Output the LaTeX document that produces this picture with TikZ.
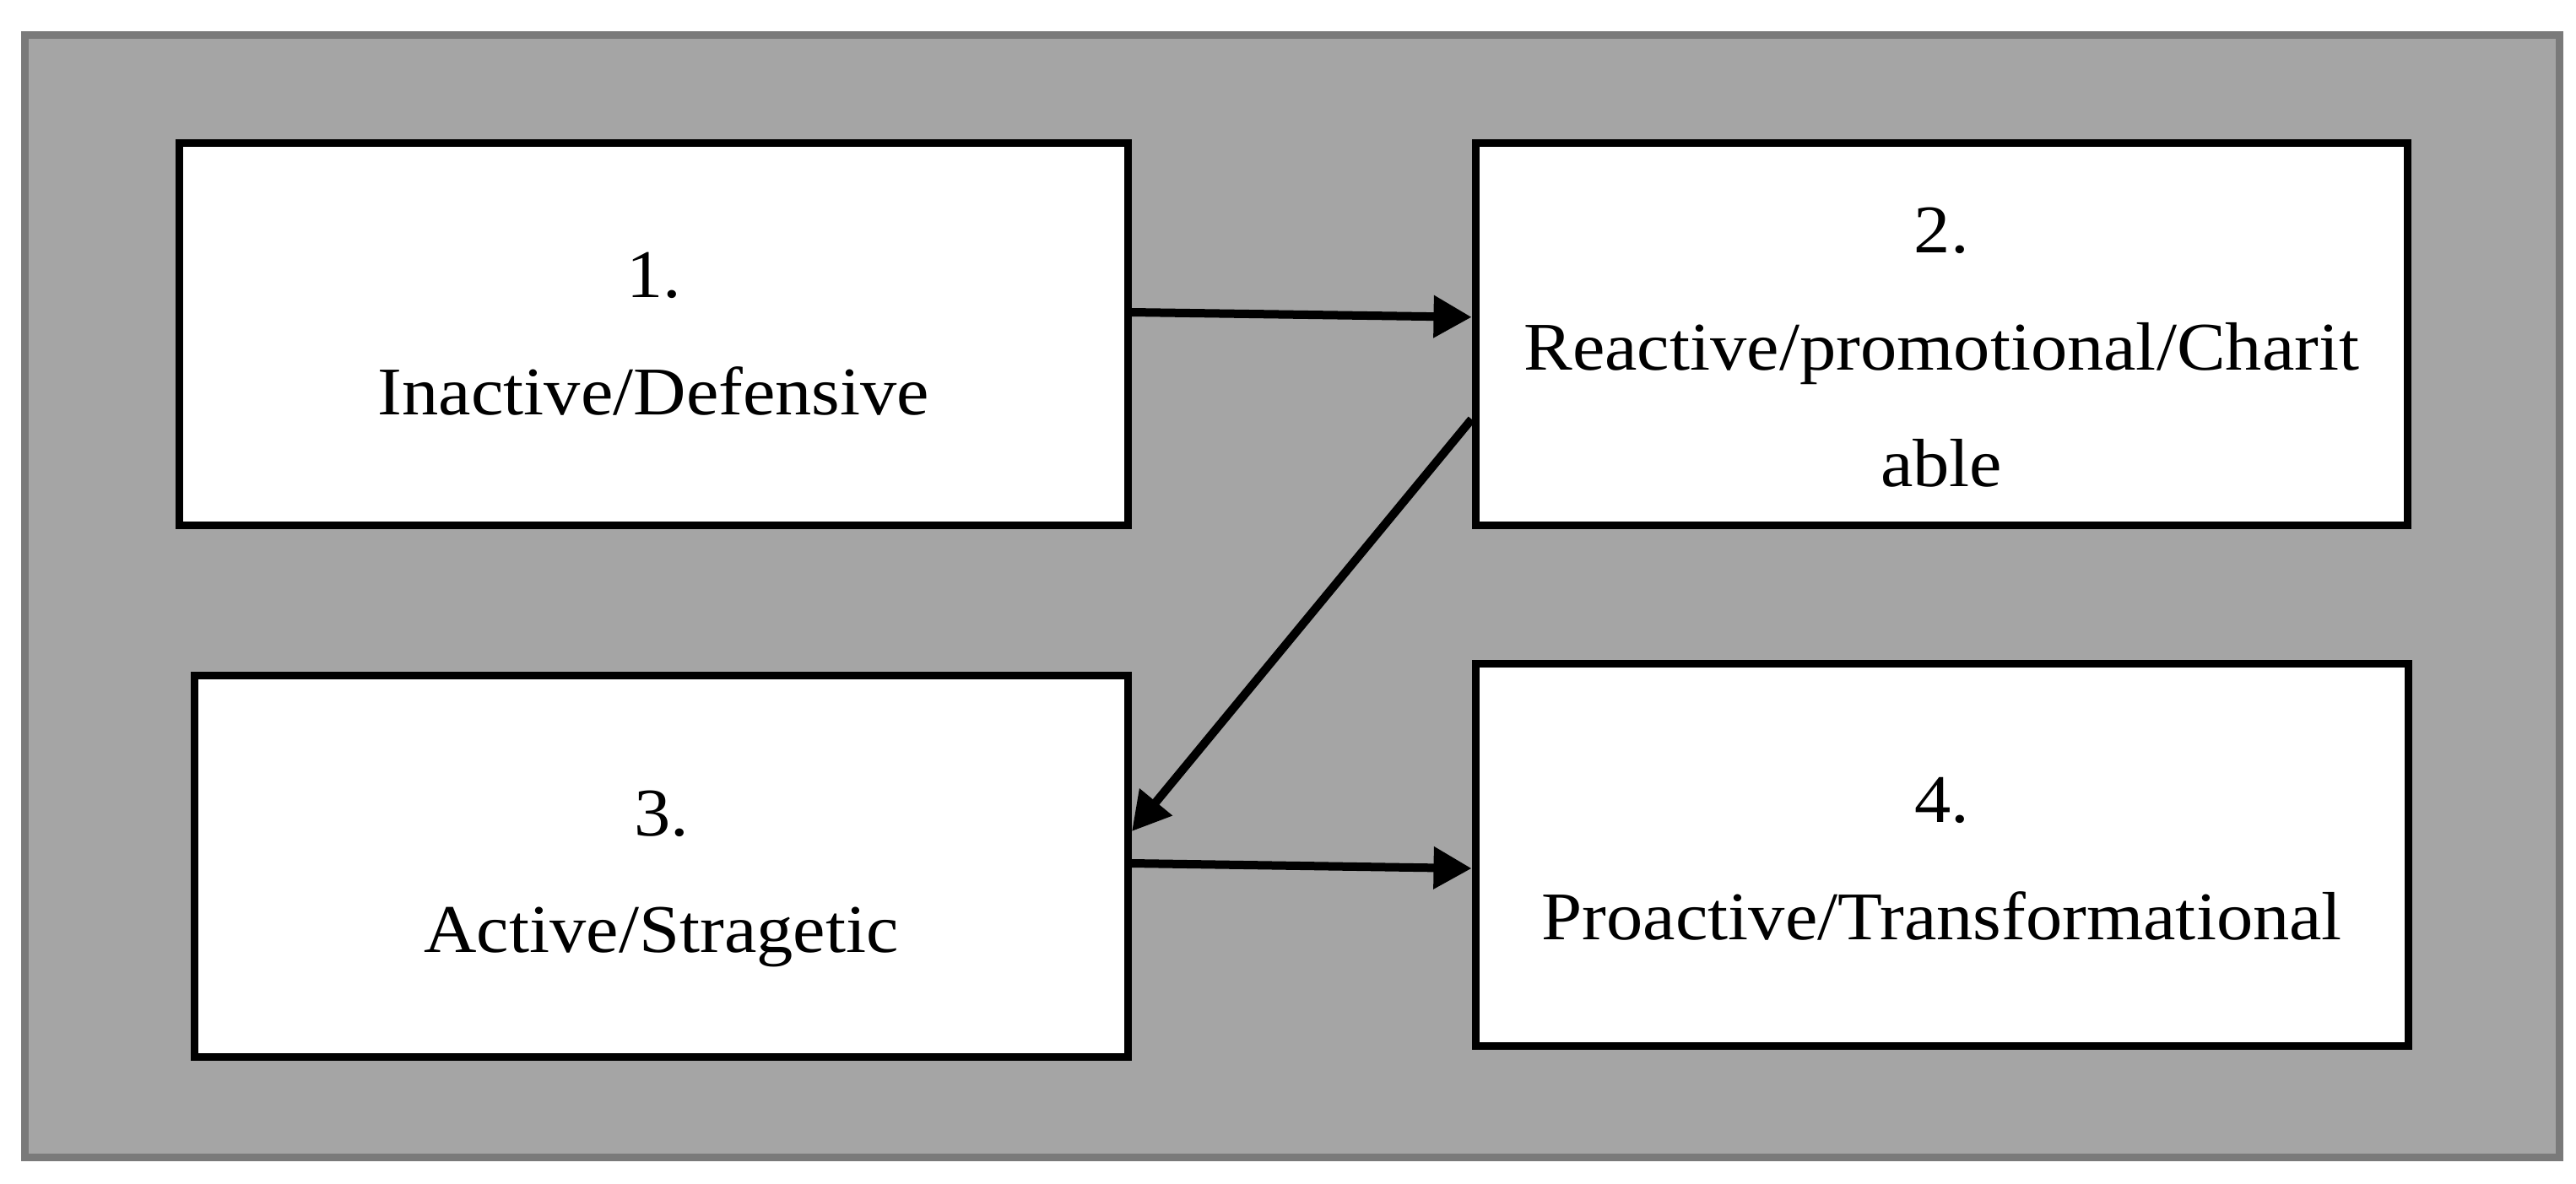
\documentclass[tikz,border=0pt]{standalone}
\usepackage{fontspec}
\setmainfont[FakeStretch=1.07]{Liberation Serif}
\usetikzlibrary{arrows.meta}
\definecolor{framegray}{HTML}{7A7A7A}
\definecolor{panelgray}{HTML}{A5A5A5}
\newcommand{\lowerby}[1]{\rule{0pt}{\dimexpr 0.535cm+2\dimexpr #1\relax\relax}}
\tikzset{
  stagebox/.style={draw=black, line width=0.09cm, fill=white, inner sep=0pt,
    align=center, font=\fontsize{23}{39.5}\selectfont},
  flow/.style={line width=0.1cm, -{Triangle[length=0.45cm,width=0.48cm]}}
}
\begin{document}
\begin{tikzpicture}
\useasboundingbox (0,0) rectangle (30.52,-14.02);
\node[draw=framegray, fill=panelgray, line width=0.09cm, inner sep=0pt,
  minimum width=30.03cm, minimum height=13.30cm] (frame) at (15.31,-7.065) {};
\node[stagebox, minimum width=11.24cm, minimum height=4.53cm] (b1) at (7.745,-3.96)
  {1.\\Inactive/Defensive};
\node[stagebox, minimum width=11.045cm, minimum height=4.525cm] (b2) at (23.0025,-3.9575)
  {\lowerby{0.16cm}2.\\Reactive/promotional/Charit\\able};
\node[stagebox, minimum width=11.06cm, minimum height=4.52cm] (b3) at (7.835,-10.265)
  {\lowerby{0.15cm}3.\\Active/Stragetic};
\node[stagebox, minimum width=11.055cm, minimum height=4.53cm] (b4) at (23.0075,-10.13)
  {\lowerby{0.05cm}4.\\Proactive/Transformational};
\draw[flow] ([yshift=0.26cm]b1.east) -- ([yshift=0.20cm]b2.west);
\draw[flow] ([yshift=-1.01cm]b2.west) -- ([yshift=0.415cm]b3.east);
\draw[flow] ([yshift=0.035cm]b3.east) -- ([yshift=-0.16cm]b4.west);
\end{tikzpicture}
\end{document}
